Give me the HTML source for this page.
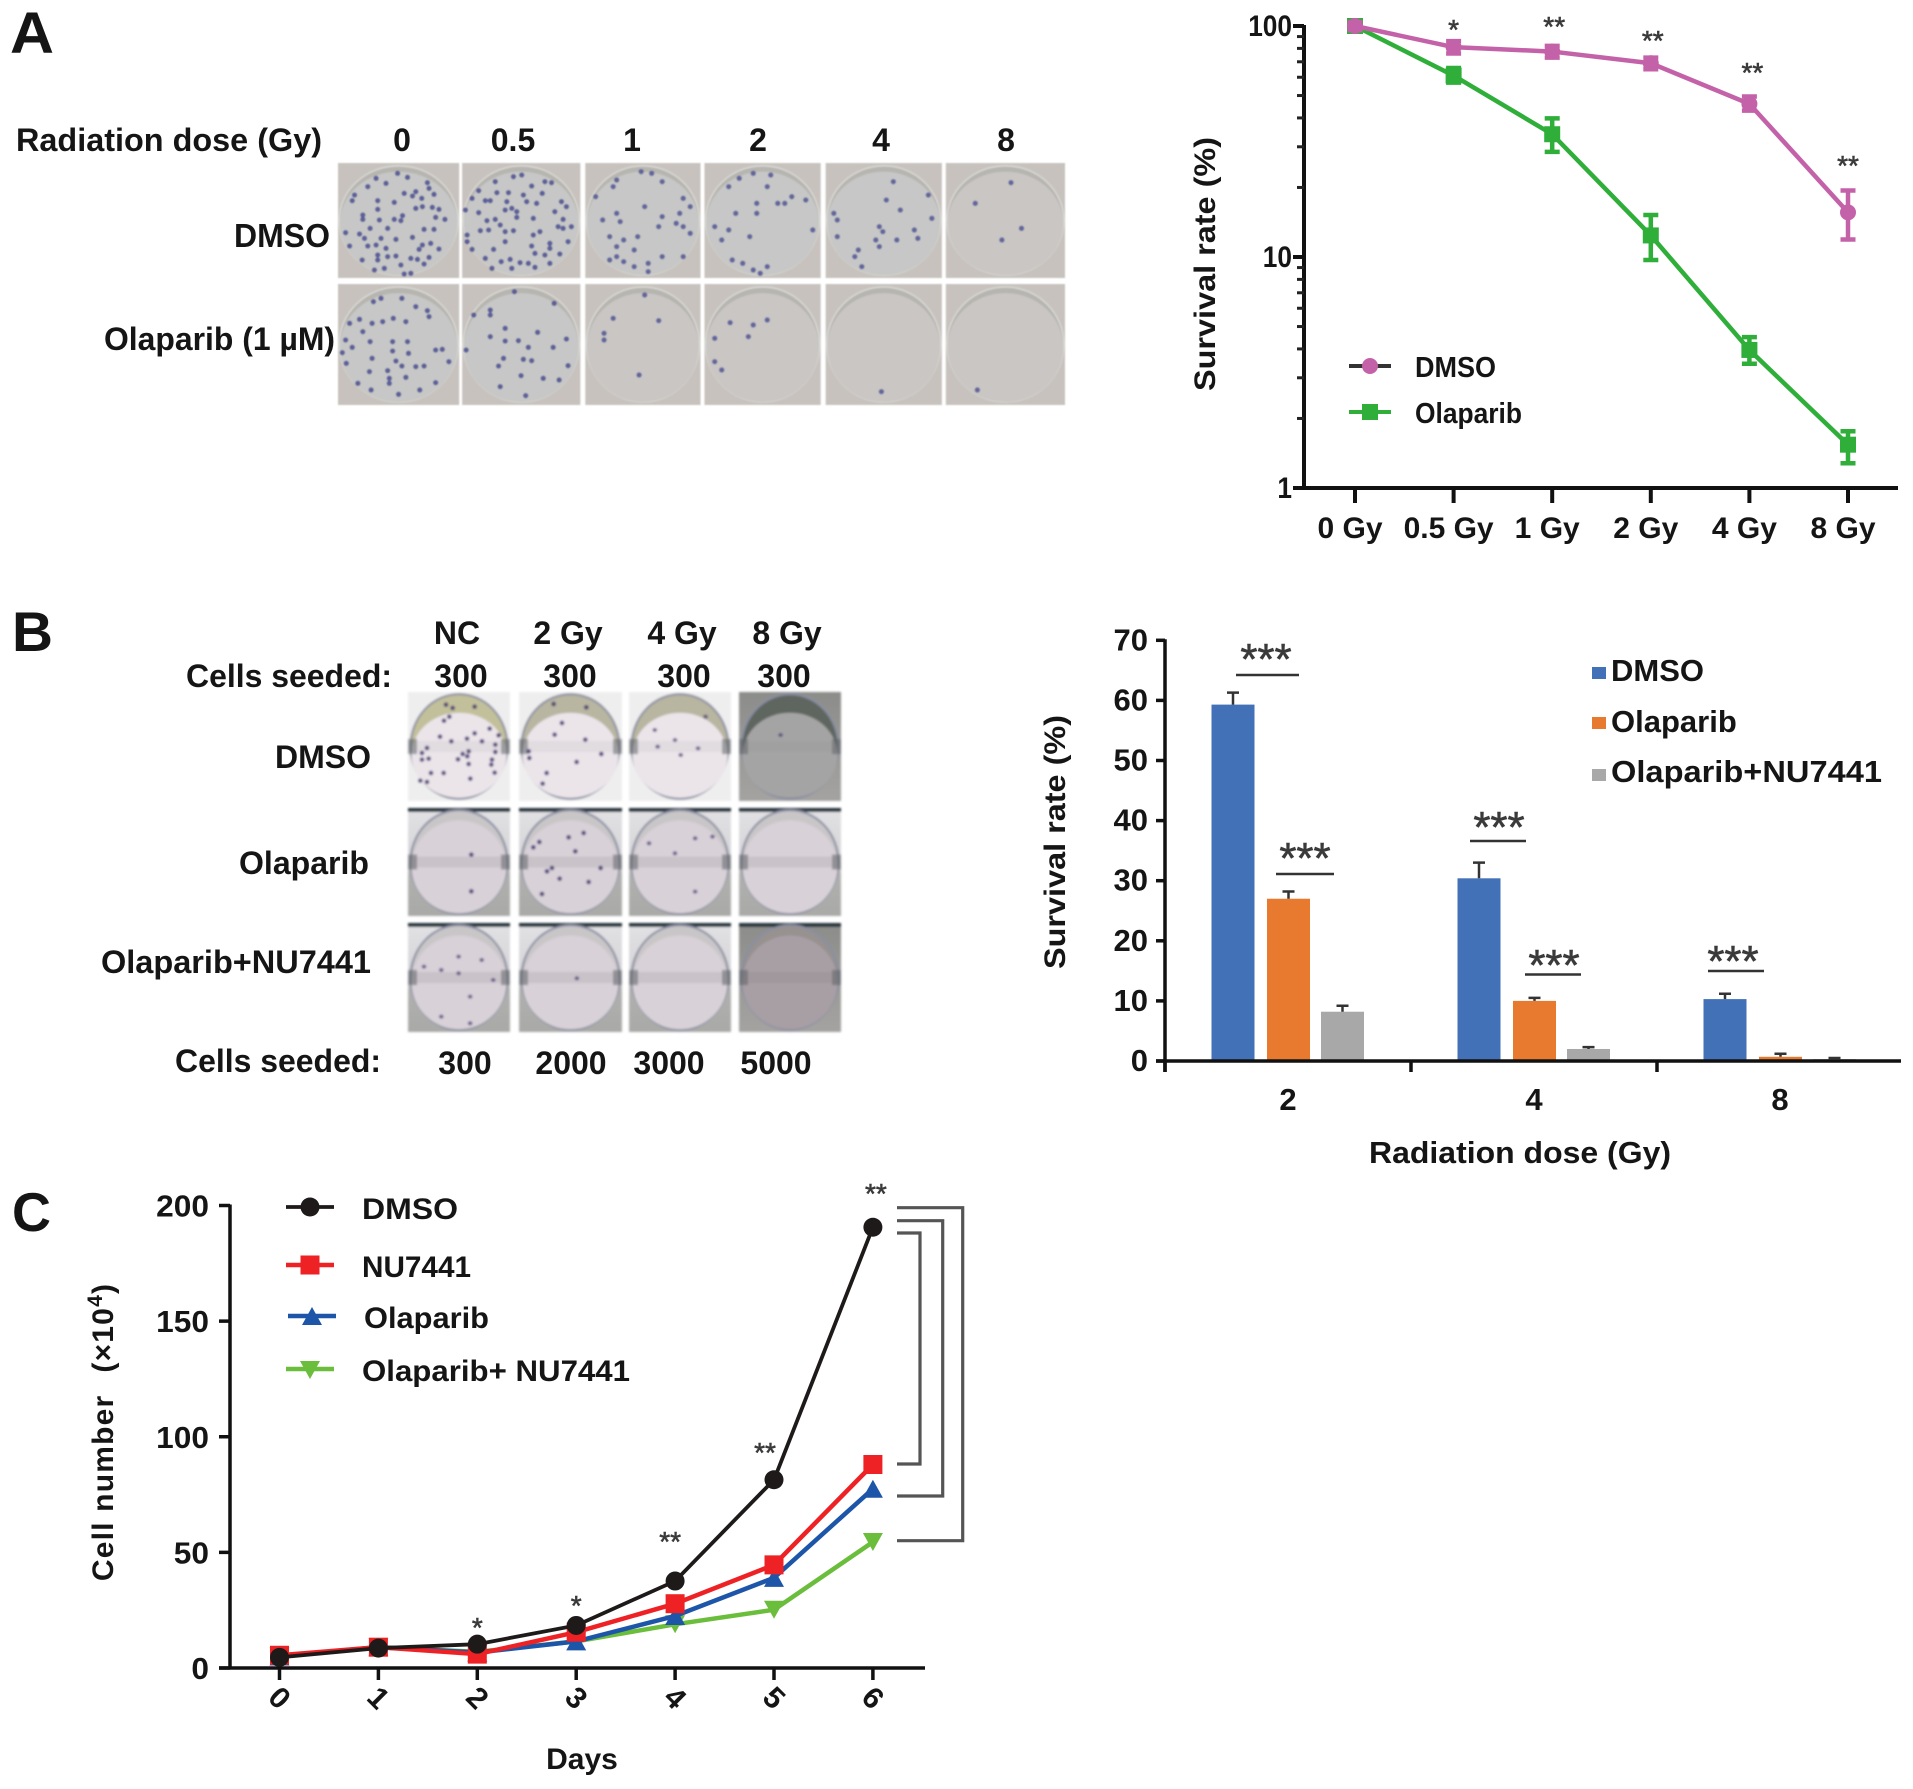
<!DOCTYPE html>
<html lang="en">
<head>
<meta charset="utf-8">
<title>Clonogenic survival and cell growth figure</title>
<style>
html,body{margin:0;padding:0;background:#fff;}
svg{display:block;}
text{font-family:"Liberation Sans",sans-serif;font-weight:700;fill:#151515;}
.star{font-weight:400;fill:#3a3a3a;stroke:#3a3a3a;stroke-width:.6;}
</style>
</head>
<body>
<svg id="figure" xmlns="http://www.w3.org/2000/svg" width="1913" height="1789" viewBox="0 0 1913 1789">
<defs>
<filter id="soft" x="-5%" y="-5%" width="110%" height="110%"><feGaussianBlur stdDeviation="1.1"/></filter>
<filter id="softer" x="-5%" y="-5%" width="110%" height="110%"><feGaussianBlur stdDeviation="0.7"/></filter>
<linearGradient id="rowgrad" x1="0" y1="0" x2="0" y2="1"><stop offset="0" stop-color="#e2e2e5"/><stop offset=".5" stop-color="#d4d3d6"/><stop offset=".62" stop-color="#b0b0ae"/><stop offset="1" stop-color="#a9a9a7"/></linearGradient>
<linearGradient id="darkgrad" x1="0" y1="0" x2="0" y2="1"><stop offset="0" stop-color="#8c8d8a"/><stop offset="1" stop-color="#a4a3a1"/></linearGradient>
</defs>
<rect width="1913" height="1789" fill="#fff"/>

<text x="10" y="53" font-size="58" textLength="44" lengthAdjust="spacingAndGlyphs">A</text>
<text x="12" y="651" font-size="56" textLength="41" lengthAdjust="spacingAndGlyphs">B</text>
<text x="12" y="1231" font-size="55" textLength="39" lengthAdjust="spacingAndGlyphs">C</text>

<g font-size="32">
<text x="16" y="151" textLength="306" lengthAdjust="spacingAndGlyphs">Radiation dose (Gy)</text>
<text x="402" y="151" text-anchor="middle">0</text>
<text x="513" y="151" text-anchor="middle">0.5</text>
<text x="632" y="151" text-anchor="middle">1</text>
<text x="758" y="151" text-anchor="middle">2</text>
<text x="881" y="151" text-anchor="middle">4</text>
<text x="1006" y="151" text-anchor="middle">8</text>
<text x="330" y="247" text-anchor="end" textLength="96" lengthAdjust="spacingAndGlyphs" font-size="33">DMSO</text>
<text x="104" y="350" textLength="231" lengthAdjust="spacingAndGlyphs">Olaparib (1 µM)</text>
</g>
<g id="photos-a"></g>

<g font-size="32">
<text x="457" y="644" text-anchor="middle">NC</text>
<text x="568" y="644" text-anchor="middle">2 Gy</text>
<text x="682" y="644" text-anchor="middle">4 Gy</text>
<text x="787" y="644" text-anchor="middle">8 Gy</text>
<text x="186" y="687" textLength="206" lengthAdjust="spacingAndGlyphs">Cells seeded:</text>
<text x="461" y="687" text-anchor="middle">300</text>
<text x="570" y="687" text-anchor="middle">300</text>
<text x="684" y="687" text-anchor="middle">300</text>
<text x="784" y="687" text-anchor="middle">300</text>
<text x="371" y="768" text-anchor="end">DMSO</text>
<text x="369" y="874" text-anchor="end" textLength="130" lengthAdjust="spacingAndGlyphs">Olaparib</text>
<text x="101" y="973" textLength="270" lengthAdjust="spacingAndGlyphs">Olaparib+NU7441</text>
<text x="175" y="1072" textLength="206" lengthAdjust="spacingAndGlyphs">Cells seeded:</text>
<text x="465" y="1074" text-anchor="middle">300</text>
<text x="571" y="1074" text-anchor="middle">2000</text>
<text x="669" y="1074" text-anchor="middle">3000</text>
<text x="776" y="1074" text-anchor="middle">5000</text>
</g>
<g id="photos-b"></g>

<g id="chart-a"></g>
<g id="chart-b"></g>
<g id="chart-c"></g>
</svg>

<script>
// ---- Chart A values ----
const aCategories = ['0 Gy', '0.5 Gy', '1 Gy', '2 Gy', '4 Gy', '8 Gy'];
const aDmso = [100, 81, 77.5, 69, 46, 15.6];
const aDmsoHi = [104, 86, 82, 73, 49.5, 19.4];
const aDmsoLo = [96, 76, 73, 65, 43, 11.9];
const aOlaparib = [100, 61, 34, 12.4, 3.96, 1.54];
const aOlaparibHi = [104, 65.8, 39.8, 15.2, 4.5, 1.76];
const aOlaparibLo = [96, 56.9, 28.5, 9.7, 3.45, 1.28];
const aYTicks = [1, 10, 100];
const aMinorTicks = [2, 3, 4, 5, 6, 7, 8, 9, 20, 30, 40, 50, 60, 70, 80, 90];
const aStars = ['', '*', '**', '**', '**', '**'];

// ---- Chart B values ----
const bCategories = ['2', '4', '8'];
const bDmso = [59.3, 30.4, 10.3];
const bDmsoErr = [61.3, 33, 11.2];
const bOlaparib = [27, 10, 0.7];
const bOlaparibErr = [28.2, 10.5, 1.2];
const bCombo = [8.2, 2, 0.3];
const bComboErr = [9.2, 2.3, 0.5];
const bYTicks = [0, 10, 20, 30, 40, 50, 60, 70];

// ---- Chart C values ----
const cDays = ['0', '1', '2', '3', '4', '5', '6'];
const cDmso = [4.6, 8.6, 10.3, 18.4, 37.6, 81.4, 190.6];
const cNu7441 = [5.5, 9, 6, 15.5, 27.8, 44.6, 88];
const cOlaparib = [5, 9, 6.7, 11.5, 22.5, 39, 77.5];
const cCombo = [5, 9, 7, 11.5, 18.9, 25.2, 54.5];
const cYTicks = [0, 50, 100, 150, 200];
const cStars = ['', '', '*', '*', '**', '**', '**'];

const NS = 'http://www.w3.org/2000/svg';
function mk(tag, attrs, parent, txt) {
  const el = document.createElementNS(NS, tag);
  for (const k in attrs) el.setAttribute(k, attrs[k]);
  if (txt !== undefined) el.textContent = txt;
  parent.appendChild(el);
  return el;
}

// ================= Chart A =================
(function () {
  const g = document.getElementById('chart-a');
  const ax0 = 1355, ax1 = 1848;
  const x = i => ax0 + (ax1 - ax0) * i / (aCategories.length - 1);
  const y = v => 488 - 231 * Math.log10(v);
  let el;
  el = mk('line', {x1: 1304, y1: y(100) - 1, x2: 1304, y2: 490, stroke: '#111', 'stroke-width': 4}, g);
  
  
  el = mk('line', {x1: 1293, y1: 488, x2: 1898, y2: 488, stroke: '#111', 'stroke-width': 4}, g);
  
  
  aYTicks.forEach(t => {
    el = mk('line', {x1: 1293, y1: y(t), x2: 1304, y2: y(t), stroke: '#111', 'stroke-width': 4}, g);
    
    
    el = mk('text', {x: 1292, y: y(t) + 10, 'text-anchor': 'end', 'font-size': 30, textLength: String(t).length * 14.6, lengthAdjust: 'spacingAndGlyphs'}, g, t);
    
    
  });
  aMinorTicks.forEach(t => {
    el = mk('line', {x1: 1297, y1: y(t), x2: 1304, y2: y(t), stroke: '#222', 'stroke-width': 3}, g);
    
    
  });
  aCategories.forEach((c, i) => {
    el = mk('line', {x1: x(i), y1: 488, x2: x(i), y2: 503, stroke: '#111', 'stroke-width': 4}, g);
    
    
    el = mk('text', {x: x(i) - 5, y: 538, 'text-anchor': 'middle', 'font-size': 30}, g, c);
    
    
    if (aStars[i]) {
      el = mk('text', {x: x(i) + [0, 0, 2, 2, 3, 0][i], y: [0, 39, 36, 50, 82, 175][i], 'text-anchor': 'middle', 'font-size': 28, class: 'star'}, g, aStars[i]);
      
      
    }
  });
  el = mk('text', {x: 1215, y: 264, 'text-anchor': 'middle', 'font-size': 30, transform: 'rotate(-90 1215 264)', textLength: 254, lengthAdjust: 'spacingAndGlyphs'}, g, 'Survival rate (%)');
  
  

  function err(vals, hi, lo, col) {
    vals.forEach((v, i) => {
      const e = mk('path', {d: `M${x(i)} ${y(hi[i])}V${y(lo[i])}M${x(i) - 7.5} ${y(hi[i])}h15M${x(i) - 7.5} ${y(lo[i])}h15`, stroke: col, 'stroke-width': 4.5, fill: 'none'}, g);
      
      
    });
  }
  const green = '#2fae3a', pink = '#c462a9';
  err(aOlaparib, aOlaparibHi, aOlaparibLo, green);
  el = mk('polyline', {points: aOlaparib.map((v, i) => x(i) + ',' + y(v)).join(' '), fill: 'none', stroke: green, 'stroke-width': 4.5}, g);
  
  
  aOlaparib.forEach((v, i) => {
    const m = mk('rect', {x: x(i) - 8, y: y(v) - 8, width: 16, height: 16, fill: green}, g);
    
    
  });
  err(aDmso, aDmsoHi, aDmsoLo, pink);
  el = mk('polyline', {points: aDmso.map((v, i) => x(i) + ',' + y(v)).join(' '), fill: 'none', stroke: pink, 'stroke-width': 4.5}, g);
  
  
  aDmso.forEach((v, i) => {
    const m = mk('circle', {cx: x(i), cy: y(v), r: 8, fill: pink}, g);
    
    
  });

  // legend
  el = mk('line', {x1: 1349, y1: 366, x2: 1391, y2: 366, stroke: '#333', 'stroke-width': 4}, g);
  
  
  el = mk('circle', {cx: 1370, cy: 366, r: 8, fill: pink}, g);
  
  
  el = mk('text', {x: 1415, y: 377, 'font-size': 29, textLength: 81, lengthAdjust: 'spacingAndGlyphs'}, g, 'DMSO');
  
  
  el = mk('line', {x1: 1349, y1: 412, x2: 1391, y2: 412, stroke: green, 'stroke-width': 4}, g);
  
  
  el = mk('rect', {x: 1362, y: 404, width: 16, height: 16, fill: green}, g);
  
  
  el = mk('text', {x: 1415, y: 423, 'font-size': 29, textLength: 107, lengthAdjust: 'spacingAndGlyphs'}, g, 'Olaparib');
  
  
})();

// ================= Chart B =================
(function () {
  const g = document.getElementById('chart-b');
  const y = v => 1061 - v * 6.01;
  const band = 246, x0 = 1165;
  const cx = i => x0 + band * (i + 0.5);
  const offs = [-55, 0.5, 54.5];
  const barW = 43;
  const cols = ['#4271b7', '#e87a2f', '#a8a8a8'];
  let el;
  [[bDmso, bDmsoErr], [bOlaparib, bOlaparibErr], [bCombo, bComboErr]].forEach((s, si) => {
    s[0].forEach((v, i) => {
      const bx = cx(i) + offs[si];
      const b = mk('rect', {x: bx - barW / 2, y: y(v), width: barW, height: 1061 - y(v), fill: cols[si]}, g);
      
      
      const e = mk('path', {d: `M${bx} ${y(v)}V${y(s[1][i])}M${bx - 6} ${y(s[1][i])}h12`, stroke: '#333', 'stroke-width': 2.5, fill: 'none'}, g);
      
      
    });
  });
  el = mk('line', {x1: 1165, y1: y(70) - 1, x2: 1165, y2: 1072, stroke: '#111', 'stroke-width': 3.5}, g);
  
  
  el = mk('line', {x1: 1156, y1: 1061, x2: 1901, y2: 1061, stroke: '#111', 'stroke-width': 3.5}, g);
  
  
  bYTicks.forEach(t => {
    el = mk('line', {x1: 1156, y1: y(t), x2: 1165, y2: y(t), stroke: '#111', 'stroke-width': 3.5}, g);
    
    
    el = mk('text', {x: 1148, y: y(t) + 10, 'text-anchor': 'end', 'font-size': 31}, g, t);
    
    
  });
  bCategories.forEach((c, i) => {
    el = mk('line', {x1: x0 + band * i, y1: 1061, x2: x0 + band * i, y2: 1072, stroke: '#111', 'stroke-width': 3.5}, g);
    
    
    el = mk('text', {x: cx(i), y: 1110, 'text-anchor': 'middle', 'font-size': 31}, g, c);
    
    
  });
  el = mk('line', {x1: 1236, y1: 675, x2: 1299, y2: 675, stroke: '#333', 'stroke-width': 2.5}, g);
  
  
  el = mk('text', {x: 1266, y: 674, 'text-anchor': 'middle', 'font-size': 44, class: 'star'}, g, '***');
  
  
  el = mk('line', {x1: 1276, y1: 874, x2: 1334, y2: 874, stroke: '#333', 'stroke-width': 2.5}, g);
  
  
  el = mk('text', {x: 1305, y: 873, 'text-anchor': 'middle', 'font-size': 44, class: 'star'}, g, '***');
  
  
  el = mk('line', {x1: 1470, y1: 841, x2: 1526, y2: 841, stroke: '#333', 'stroke-width': 2.5}, g);
  
  
  el = mk('text', {x: 1499, y: 842, 'text-anchor': 'middle', 'font-size': 44, class: 'star'}, g, '***');
  
  
  el = mk('line', {x1: 1525, y1: 974.5, x2: 1581, y2: 974.5, stroke: '#333', 'stroke-width': 2.5}, g);
  
  
  el = mk('text', {x: 1554, y: 980, 'text-anchor': 'middle', 'font-size': 44, class: 'star'}, g, '***');
  
  
  el = mk('line', {x1: 1708, y1: 971, x2: 1764, y2: 971, stroke: '#333', 'stroke-width': 2.5}, g);
  
  
  el = mk('text', {x: 1733, y: 976, 'text-anchor': 'middle', 'font-size': 44, class: 'star'}, g, '***');
  
  

  el = mk('text', {x: 1065, y: 842, 'text-anchor': 'middle', 'font-size': 30, transform: 'rotate(-90 1065 842)', textLength: 254, lengthAdjust: 'spacingAndGlyphs'}, g, 'Survival rate (%)');
  
  
  el = mk('text', {x: 1520, y: 1163, 'text-anchor': 'middle', 'font-size': 31, textLength: 302, lengthAdjust: 'spacingAndGlyphs'}, g, 'Radiation dose (Gy)');
  
  

  // legend
  el = mk('rect', {x: 1592, y: 667, width: 14, height: 12, fill: cols[0]}, g);
  
  
  el = mk('text', {x: 1611, y: 681, 'font-size': 31}, g, 'DMSO');
  
  
  el = mk('rect', {x: 1592, y: 717, width: 14, height: 12, fill: cols[1]}, g);
  
  
  el = mk('text', {x: 1611, y: 732, 'font-size': 31}, g, 'Olaparib');
  
  
  el = mk('rect', {x: 1592, y: 769, width: 14, height: 12, fill: cols[2]}, g);
  
  
  el = mk('text', {x: 1611, y: 782, 'font-size': 31, textLength: 271, lengthAdjust: 'spacingAndGlyphs'}, g, 'Olaparib+NU7441');
  
  
})();

// ================= Chart C =================
(function () {
  const g = document.getElementById('chart-c');
  const x = i => 279.5 + 98.9 * i;
  const y = v => 1668 - v * 2.3125;
  let el;
  el = mk('line', {x1: 230, y1: y(200) - 1, x2: 230, y2: 1669, stroke: '#111', 'stroke-width': 3.5}, g);
  
  
  el = mk('line', {x1: 219, y1: 1668, x2: 925, y2: 1668, stroke: '#111', 'stroke-width': 3.5}, g);
  
  
  cYTicks.forEach(t => {
    el = mk('line', {x1: 219, y1: y(t), x2: 230, y2: y(t), stroke: '#111', 'stroke-width': 3.5}, g);
    
    
    el = mk('text', {x: 209, y: y(t) + 11, 'text-anchor': 'end', 'font-size': 31, textLength: String(t).length * 17.6, lengthAdjust: 'spacingAndGlyphs'}, g, t);
    
    
  });
  cDays.forEach((d, i) => {
    el = mk('line', {x1: x(i), y1: 1668, x2: x(i), y2: 1680, stroke: '#111', 'stroke-width': 3.5}, g);
    
    
    el = mk('text', {x: x(i), y: 1708, 'text-anchor': 'middle', 'font-size': 30, transform: `rotate(45 ${x(i)} 1698)`}, g, d);
    
    
    if (cStars[i]) {
      el = mk('text', {x: x(i) + [0, 0, 0, 0, -5, -9, 3][i], y: [0, 0, 1637, 1615, 1551, 1462, 1203][i], 'text-anchor': 'middle', 'font-size': 28, class: 'star'}, g, cStars[i]);
      
      
    }
  });
  const green = '#6bbd3c', blue = '#1d55a8', red = '#ee2225', black = '#1e1a1a';
  el = mk('polyline', {points: cCombo.map((v, i) => x(i) + ',' + y(v)).join(' '), fill: 'none', stroke: green, 'stroke-width': 4.5}, g);
  
  
  cCombo.forEach((v, i) => {
    const m = mk('path', {d: `M${x(i) - 10} ${y(v) - 9}h20l-10 18z`, fill: green}, g);
    
    
  });
  el = mk('polyline', {points: cOlaparib.map((v, i) => x(i) + ',' + y(v)).join(' '), fill: 'none', stroke: blue, 'stroke-width': 4.5}, g);
  
  
  cOlaparib.forEach((v, i) => {
    const m = mk('path', {d: `M${x(i) - 10} ${y(v) + 9}h20l-10 -18z`, fill: blue}, g);
    
    
  });
  el = mk('polyline', {points: cNu7441.map((v, i) => x(i) + ',' + y(v)).join(' '), fill: 'none', stroke: red, 'stroke-width': 4.5}, g);
  
  
  cNu7441.forEach((v, i) => {
    const m = mk('rect', {x: x(i) - 9.5, y: y(v) - 9.5, width: 19, height: 19, fill: red}, g);
    
    
  });
  el = mk('polyline', {points: cDmso.map((v, i) => x(i) + ',' + y(v)).join(' '), fill: 'none', stroke: black, 'stroke-width': 3.8}, g);
  
  
  cDmso.forEach((v, i) => {
    const m = mk('circle', {cx: x(i), cy: y(v), r: 9.5, fill: black}, g);
    
    
  });

  // significance brackets
  el = mk('path', {d: 'M897 1207.7H962.7V1540.7H897', fill: 'none', stroke: '#555', 'stroke-width': 3.2}, g);
  
  
  el = mk('path', {d: 'M897 1220.7H942.7V1496H897', fill: 'none', stroke: '#555', 'stroke-width': 3.2}, g);
  
  
  el = mk('path', {d: 'M897 1233H920V1464H897', fill: 'none', stroke: '#555', 'stroke-width': 3.2}, g);
  
  

  // axis titles
  const t = mk('text', {x: 113, y: 1432, 'text-anchor': 'middle', 'font-size': 30, 'letter-spacing': 1.2, transform: 'rotate(-90 113 1432)'}, g);
  
  
  mk('tspan', {}, t, 'Cell number');
  mk('tspan', {dx: 22}, t, '(×10');
  mk('tspan', {dy: -11, 'font-size': 21}, t, '4');
  mk('tspan', {dy: 11}, t, ')');
  el = mk('text', {x: 582, y: 1769, 'text-anchor': 'middle', 'font-size': 30}, g, 'Days');
  
  

  // legend
  el = mk('line', {x1: 286, y1: 1207, x2: 334, y2: 1207, stroke: black, 'stroke-width': 3.8}, g);
  
  
  el = mk('circle', {cx: 310, cy: 1207, r: 9.5, fill: black}, g);
  
  
  el = mk('text', {x: 362, y: 1219, 'font-size': 30, textLength: 96, lengthAdjust: 'spacingAndGlyphs'}, g, 'DMSO');
  
  
  el = mk('line', {x1: 286, y1: 1265, x2: 334, y2: 1265, stroke: red, 'stroke-width': 4.5}, g);
  
  
  el = mk('rect', {x: 300.5, y: 1255.5, width: 19, height: 19, fill: red}, g);
  
  
  el = mk('text', {x: 362, y: 1277, 'font-size': 30, textLength: 109, lengthAdjust: 'spacingAndGlyphs'}, g, 'NU7441');
  
  
  el = mk('line', {x1: 288, y1: 1316, x2: 336, y2: 1316, stroke: blue, 'stroke-width': 4.5}, g);
  
  
  el = mk('path', {d: 'M302 1325h20l-10 -18z', fill: blue}, g);
  
  
  el = mk('text', {x: 364, y: 1328, 'font-size': 30, textLength: 125, lengthAdjust: 'spacingAndGlyphs'}, g, 'Olaparib');
  
  
  el = mk('line', {x1: 286, y1: 1369, x2: 334, y2: 1369, stroke: green, 'stroke-width': 4.5}, g);
  
  
  el = mk('path', {d: 'M300 1361h20l-10 18z', fill: green}, g);
  
  
  el = mk('text', {x: 362, y: 1381, 'font-size': 30, textLength: 268, lengthAdjust: 'spacingAndGlyphs'}, g, 'Olaparib+ NU7441');
  
  
})();

// ================= Photo panels (hand-read colony spots, not chart data) =================
const colA1 = [[130,55],[105,80],[65,105],[58,122],[160,70],[195,40],[225,52],[285,68],[290,85],[250,95],[215,100],[268,115],[305,103],[240,108],[135,122],[185,127],[250,145],[270,140],[300,142],[320,148],[135,148],[90,165],[90,178],[140,180],[185,178],[205,182],[210,167],[310,172],[338,178],[112,205],[165,205],[305,208],[275,208],[38,218],[80,222],[95,235],[240,232],[190,238],[145,235],[105,258],[50,258],[130,255],[160,265],[270,255],[295,250],[320,267],[260,268],[135,285],[165,290],[190,288],[235,295],[255,298],[290,292],[88,300],[135,300],[205,315],[275,312],[125,330],[155,325],[215,342],[235,340],
[490,65],[545,50],[570,45],[600,78],[640,65],[660,68],[420,115],[440,92],[495,98],[530,98],[575,105],[585,125],[615,130],[632,100],[460,122],[475,122],[525,125],[690,125],[705,140],[400,150],[440,158],[520,150],[540,145],[555,155],[670,155],[465,182],[490,178],[555,172],[605,175],[695,178],[505,195],[680,200],[695,205],[720,200],[445,212],[470,210],[520,215],[545,212],[625,215],[605,225],[405,225],[405,245],[520,245],[710,245],[600,258],[655,250],[655,265],[420,268],[485,268],[610,280],[640,285],[685,282],[535,298],[460,295],[508,305],[565,308],[590,310],[655,310],[540,325],[480,325],[610,322],
[122,425],[145,415],[208,415],[250,440],[285,452],[290,470],[80,478],[50,490],[118,490],[150,485],[182,475],[220,485],[90,515],[112,545],[180,545],[225,545],[38,540],[58,562],[28,578],[180,573],[228,580],[310,570],[330,568],[118,595],[190,603],[208,618],[250,620],[275,618],[40,610],[350,605],[110,635],[165,632],[170,655],[170,670],[220,652],[115,690],[198,703],[262,690],[310,668],[75,670],
[475,450],[475,465],[425,465],[548,395],[668,430],[520,505],[475,530],[520,543],[560,542],[618,517],[705,537],[665,562],[590,562],[515,595],[575,598],[600,602],[500,618],[710,617],[568,647],[635,655],[683,660],[505,680],[582,707],[402,570]];
const colA2 = [[880,540],[875,560],[915,515],[930,520],[945,545],[975,595],[850,590],[880,640],[920,620],[945,650],[970,640],[985,620],[860,660],[885,665],[965,670],[975,680],[940,680],[870,710],[890,720],[910,710],[985,700],[880,740],[905,750],[880,770],[870,780],[925,790],[945,770],[975,770],[905,800],[925,815],[890,785],
[1055,535],[1075,520],[1100,525],[1040,560],[1095,560],[1130,590],[1150,600],[1080,610],[1110,610],[1050,640],[1020,680],[1080,640],[1120,610],[1160,690],[1040,690],[1070,710],[1045,780],[1060,790],[1075,810],[1095,800],[1085,820],[1030,720],
[1275,545],[1265,600],[1325,585],[1285,630],[1190,640],[1195,660],[1330,655],[1255,680],[1260,695],[1305,690],[1195,710],[1250,720],[1280,720],[1310,715],[1225,750],[1255,740],[1230,800],[1220,770],
[1443,548],[1392,610],[1458,685],[1430,720],
[920,885],[940,962],[875,955],[862,1000],[862,1020],[912,1125],
[1042,968],[1095,960],[1075,975],[1068,1010],[1020,1015],[1020,1085],[1030,1110],
[1258,1175],[1395,1170]];
const colB1 = [[132,50],[152,60],[218,56],[142,86],[126,98],[263,122],[114,146],[148,160],[195,152],[240,160],[218,136],[290,142],[280,170],[280,192],[75,180],[60,195],[60,215],[80,212],[200,190],[182,198],[196,205],[168,214],[200,228],[270,215],[268,230],[278,254],[87,255],[125,255],[205,272],[75,282],[55,278],
[455,48],[553,58],[458,140],[550,155],[380,190],[382,210],[524,222],[434,255],[422,287],[598,198],[480,105],
[208,500],[208,610],
[500,448],[545,435],[412,462],[394,478],[520,490],[473,572],[560,582],[596,540],[420,618],[435,550],[450,540]];
const colB2 = [[1140,420],[1228,380],[1175,450],[1145,470],[1185,495],[1215,475],[1358,435],[1210,745],[1175,790],[1130,760],[1210,905],[1240,740],
[800,1150],[820,1220],[770,1140],[840,1110],[800,1100],[770,1280],[860,1170],[740,1130],[820,1300],[1005,1165]];

function buildPhotosA() {
  const root = document.getElementById('photos-a');
  const xs = [[340,462],[465,584],[589,705],[709,826],[831,948],[952,1072]];
  const ys = [[163,278],[284,405]];
  const blur = mk('g', {filter: 'url(#softer)', transform: 'translate(338,0) scale(.9932,1) translate(-340,0)'}, root);
  ys.forEach((r, ri) => xs.forEach((c, ci) => {
    const w = c[1] - c[0], h = r[1] - r[0], mx = (c[0] + c[1]) / 2, my = (r[0] + r[1]) / 2;
    const t = mk('rect', {x: c[0], y: r[0], width: w, height: h, fill: '#c7c2bd'}, blur);
    
    
    const rim = mk('ellipse', {cx: mx, cy: my, rx: w * .49, ry: h * .475, fill: '#b7b5b0', stroke: '#d8d7d3', 'stroke-width': 1.5}, blur);
    
    
    const dense = ri === 0 ? ci < 5 : ci < 2;
    const inner = mk('ellipse', {cx: mx, cy: my + h * .025, rx: w * .485, ry: h * .45, fill: dense ? '#c6c7c6' : '#c9c6c4'}, blur);
    
    
  }));
  const g1 = mk('g', {transform: 'translate(335,160) scale(.3333)'}, blur);
  colA1.forEach(p => {
    const d = mk('circle', {cx: p[0], cy: p[1], r: 8, fill: '#4a4d92', opacity: .85}, g1);
    
    
  });
  const g2 = mk('g', {transform: 'scale(.7052,.3333)'}, blur);
  colA2.forEach(p => {
    const d = mk('ellipse', {cx: p[0], cy: p[1], rx: 3.8, ry: 8, fill: '#4a4d92', opacity: .8}, g2);
    
    
  });
}

function buildPhotosB() {
  const root = document.getElementById('photos-b');
  const xs = [[411,513],[522,625],[632,734],[742,844]];
  const ys = [[692,801],[808,916],[923,1032]];
  const blur = mk('g', {filter: 'url(#soft)', transform: 'translate(-3,0)'}, root);
  ys.forEach((r, ri) => xs.forEach((c, ci) => {
    const w = c[1] - c[0], h = r[1] - r[0], mx = (c[0] + c[1]) / 2, my = (r[0] + r[1]) / 2;
    const darkTile = ci === 3 && ri !== 1;
    const bg = ri === 0 ? (ci === 3 ? 'url(#darkgrad)' : '#efeeee') : (darkTile ? 'url(#darkgrad)' : 'url(#rowgrad)');
    const t = mk('rect', {x: c[0], y: r[0], width: w, height: h, fill: bg}, blur);
    
    
    if (ri > 0) {
      const s = mk('rect', {x: c[0], y: r[0], width: w, height: 4, fill: '#26343e'}, blur);
      
      
    }
    const crescent = ri === 0 ? (ci === 3 ? '#5e6661' : (ci === 0 ? '#c2c09a' : '#b8b5a0')) : (darkTile ? '#97918f' : '#c9c6c8');
    const surf = ri === 0 ? (ci === 3 ? '#a5a4a4' : '#ebe5ea') : (darkTile ? '#a89fa5' : '#d8d1d8');
    const rim = mk('ellipse', {cx: mx, cy: my, rx: w * .475, ry: h * .48, fill: crescent, stroke: '#8a8fa3', 'stroke-width': 2}, blur);
    
    
    const inner = mk('ellipse', {cx: mx, cy: my + h * (ri === 0 ? .08 : .045), rx: w * .465, ry: h * (ri === 0 ? .39 : .43), fill: surf}, blur);
    
    
    const band = mk('rect', {x: c[0], y: my - h * .05, width: w, height: h * .1, fill: '#6e6e72', opacity: ri === 0 ? .08 : .14}, blur);
    
    
    const sideL = mk('rect', {x: c[0], y: my - h * .07, width: 9, height: h * .14, fill: '#5a5e62', opacity: .5}, blur);
    
    
    const sideR = mk('rect', {x: c[1] - 9, y: my - h * .07, width: 9, height: h * .14, fill: '#5a5e62', opacity: .5}, blur);
    
    
  }));
  const g1 = mk('g', {transform: 'translate(405,688) scale(.3333)'}, blur);
  colB1.forEach(p => {
    const d = mk('circle', {cx: p[0], cy: p[1], r: 7, fill: '#41326f', opacity: .85}, g1);
    
    
  });
  const g2 = mk('g', {transform: 'translate(0,590) scale(.577,.3333)'}, blur);
  colB2.forEach(p => {
    const d = mk('ellipse', {cx: p[0], cy: p[1], rx: 4, ry: 6, fill: '#41326f', opacity: .7}, g2);
    
    
  });
}
buildPhotosA();
buildPhotosB();
</script>
</body>
</html>
